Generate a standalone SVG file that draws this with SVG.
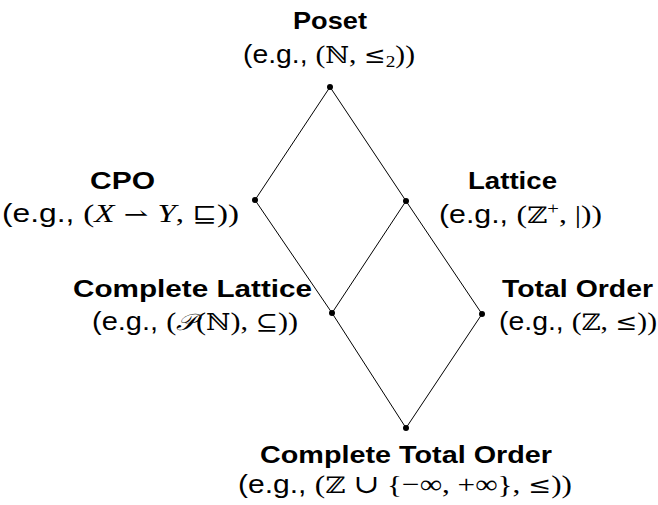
<svg xmlns="http://www.w3.org/2000/svg" width="658" height="505" viewBox="0 0 658 505">
<style>
.t{font-family:"Liberation Sans","DejaVu Sans",sans-serif;font-weight:bold;font-size:24px;fill:#000}
.s{font-family:"Liberation Sans","DejaVu Sans",sans-serif;font-size:25px;fill:#000}
.m{font-family:"Liberation Serif","DejaVu Serif","Noto Sans",serif;font-size:26px}
.sm{font-family:"Liberation Serif","DejaVu Serif",serif;font-size:17px}
.d{font-family:"DejaVu Serif","DejaVu Sans",serif;font-size:23px}
.i{font-style:italic}
.e{stroke:#000;stroke-width:1;fill:none}
.n{fill:#000}
</style>
<rect width="658" height="505" fill="#fff"/>
<g id="edges">
<line class="e" x1="330" y1="87" x2="255" y2="200"/>
<line class="e" x1="330" y1="87" x2="406" y2="201"/>
<line class="e" x1="406" y1="201" x2="482" y2="314"/>
<line class="e" x1="255" y1="200" x2="332" y2="313"/>
<line class="e" x1="406" y1="201" x2="332" y2="313"/>
<line class="e" x1="332" y1="313" x2="406" y2="428"/>
<line class="e" x1="482" y1="314" x2="406" y2="428"/>
</g>
<g id="poset">
<circle class="n" cx="330" cy="87" r="3"/>
<text class="t" x="293" y="29" textLength="74" lengthAdjust="spacingAndGlyphs">Poset</text>
<text class="s" x="243" y="63" textLength="172" lengthAdjust="spacingAndGlyphs">(e.g., <tspan class="m">(</tspan><tspan class="d">ℕ</tspan><tspan class="m">, </tspan><tspan class="d">≤</tspan><tspan class="sm" dy="4">2</tspan><tspan class="m" dy="-4">))</tspan></text>
</g>
<g id="cpo">
<circle class="n" cx="255" cy="200" r="3"/>
<text class="t" x="90" y="189" textLength="65" lengthAdjust="spacingAndGlyphs">CPO</text>
<text class="s" x="2" y="222" textLength="237" lengthAdjust="spacingAndGlyphs">(e.g., <tspan class="m">(</tspan><tspan class="m i">X</tspan><tspan class="d"> ⇀ </tspan><tspan class="m i">Y</tspan><tspan class="m">, </tspan><tspan class="d">⊑</tspan><tspan class="m">))</tspan></text>
</g>
<g id="lattice">
<circle class="n" cx="406" cy="201" r="3"/>
<text class="t" x="468" y="189" textLength="89" lengthAdjust="spacingAndGlyphs">Lattice</text>
<text class="s" x="439" y="223" textLength="163" lengthAdjust="spacingAndGlyphs">(e.g., <tspan class="m">(</tspan><tspan class="d">ℤ</tspan><tspan class="sm" dy="-9">+</tspan><tspan class="m" dy="9">, |))</tspan></text>
</g>
<g id="complete-lattice">
<circle class="n" cx="332" cy="313" r="3"/>
<text class="t" x="73" y="297" textLength="239" lengthAdjust="spacingAndGlyphs">Complete Lattice</text>
<text class="s" x="92" y="330" textLength="206" lengthAdjust="spacingAndGlyphs">(e.g., <tspan class="m">(</tspan><tspan class="d i">𝒫</tspan><tspan class="m">(</tspan><tspan class="d">ℕ</tspan><tspan class="m">), </tspan><tspan class="d">⊆</tspan><tspan class="m">))</tspan></text>
</g>
<g id="total-order">
<circle class="n" cx="482" cy="314" r="3"/>
<text class="t" x="502" y="297" textLength="151" lengthAdjust="spacingAndGlyphs">Total Order</text>
<text class="s" x="499" y="330" textLength="158" lengthAdjust="spacingAndGlyphs">(e.g., <tspan class="m">(</tspan><tspan class="d">ℤ</tspan><tspan class="m">, </tspan><tspan class="d">≤</tspan><tspan class="m">))</tspan></text>
</g>
<g id="complete-total-order">
<circle class="n" cx="406" cy="428" r="3"/>
<text class="t" x="260" y="463" textLength="292" lengthAdjust="spacingAndGlyphs">Complete Total Order</text>
<text class="s" x="238" y="493" textLength="334" lengthAdjust="spacingAndGlyphs">(e.g., <tspan class="m">(</tspan><tspan class="d">ℤ</tspan><tspan class="m"> ∪ {−∞, +∞}, </tspan><tspan class="d">≤</tspan><tspan class="m">))</tspan></text>
</g>
</svg>
